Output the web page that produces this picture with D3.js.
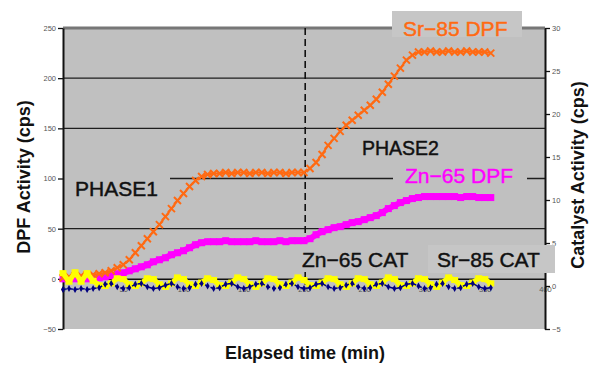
<!DOCTYPE html>
<html>
<head>
<meta charset="utf-8">
<script src="https://cdn.jsdelivr.net/npm/d3@7"></script>
<style>
  html, body { margin: 0; padding: 0; background: #ffffff; }
  svg { display: block; }
  text { font-family: "Liberation Sans", Arial, sans-serif; }
</style>
</head>
<body>
<svg id="chart" width="601" height="365"></svg>
<script>
// Elapsed time (min) of each sample
const times = [
  0, 5, 10, 15, 20, 25, 30, 35, 40, 45, 50, 55, 60, 65, 70, 75, 80, 85, 90, 95,
  100, 105, 110, 115, 120, 125, 130, 135, 140, 145, 150, 155, 160, 165, 170, 175, 180, 185, 190, 195,
  200, 205, 210, 215, 220, 225, 230, 235, 240, 245, 250, 255, 260, 265, 270, 275, 280, 285, 290, 295,
  300, 305, 310, 315, 320, 325, 330, 335, 340, 345, 350, 355
];

// DPF activity (cps), left axis
const sr85Dpf = [
  1, 2, 3, 3, 4, 4, 5, 6, 8, 11, 14, 19, 26, 33, 40, 47, 54, 62, 70, 78,
  85, 92, 98, 102, 104, 105, 105, 106, 105, 106, 106, 105, 106, 106, 105, 106, 106, 105, 106, 106,
  106, 110, 116, 124, 133, 140, 147, 153, 158, 163, 168, 173, 179, 186, 194, 202, 210, 218, 223, 226,
  226, 227, 226, 226, 227, 226, 226, 227, 226, 226, 226, 225
];
const zn65Dpf = [
  0, 0, 0, 0, 0, 0, 1, 2, 3, 5, 6, 8, 10, 12, 14, 17, 19, 21, 24, 26,
  28, 31, 34, 36, 37, 37, 37, 38, 37, 37, 37, 37, 38, 37, 37, 37, 38, 37, 38, 38,
  38, 40, 44, 47, 49, 51, 52, 54, 56, 57, 59, 61, 63, 66, 70, 73, 76, 78, 80, 81,
  82, 82, 82, 82, 82, 82, 81, 82, 82, 81, 81, 81
];

// Catalyst activity (cps), right axis
const zn65Cat = [
  -0.4, -0.3, -0.4, -0.3, -0.4, -0.3, -0.2, 0.2, 0.3, -0.1, -0.3, -0.2, 0.2, 0.3, -0.1, -0.3, -0.2, 0.1, 0.3, -0.1,
  -0.3, -0.2, 0.2, 0.3, 0.0, -0.3, -0.2, 0.2, 0.3, -0.1, -0.3, -0.1, 0.2, 0.3, -0.1, -0.3, -0.2, 0.2, 0.3, -0.1,
  -0.3, -0.2, 0.2, 0.3, -0.1, -0.3, -0.2, 0.1, 0.3, -0.1, -0.3, -0.2, 0.2, 0.3, -0.1, -0.3, -0.2, 0.2, 0.3, 0.0,
  -0.3, -0.2, 0.2, 0.3, -0.1, -0.3, -0.2, 0.2, 0.3, -0.1, -0.3, -0.2
];
const sr85Cat = [
  1.5, 0.5, 1.6, 0.5, 1.5, 0.6, 0.1, 0.0, 0.3, 0.9, 0.8, 0.2, 0.0, 0.3, 0.9, 0.8, 0.2, -0.1, 0.3, 1.0,
  0.8, 0.2, 0.0, 0.4, 0.9, 0.7, 0.1, 0.0, 0.4, 1.0, 0.8, 0.2, -0.1, 0.3, 0.9, 0.8, 0.2, 0.0, 0.4, 1.0,
  0.7, 0.1, 0.0, 0.4, 0.9, 0.8, 0.2, -0.1, 0.3, 0.9, 0.8, 0.2, 0.0, 0.4, 1.0, 0.8, 0.1, 0.0, 0.3, 0.9,
  0.8, 0.2, -0.1, 0.4, 1.0, 0.7, 0.1, 0.0, 0.4, 0.9, 0.8, 0.3
];

// Axis ticks
const xTicks = [0, 50, 100, 150, 200, 250, 300, 350, 400];
const leftTicks = [-50, 0, 50, 100, 150, 200, 250];
const rightTicks = [-5, 0, 5, 10, 15, 20, 25, 30];
const gridValues = [50, 100, 150, 200];
const phaseChange = 201;

const svg = d3.select("#chart");
const x = d3.scaleLinear().domain([0, 400]).range([63, 545]);
const yL = d3.scaleLinear().domain([-50, 250]).range([329, 28]);
const yR = d3.scaleLinear().domain([-5, 30]).range([329, 28]);

const plotBg = "#c0c0c0";
const boxBg = "#c6c6c6";

// plot area
svg.append("rect")
  .attr("x", x(0)).attr("y", yL(250))
  .attr("width", x(400) - x(0)).attr("height", yL(-50) - yL(250))
  .attr("fill", plotBg);

// horizontal gridlines
svg.append("g").selectAll("line").data(gridValues).join("line")
  .attr("x1", x(0)).attr("x2", x(400))
  .attr("y1", d => yL(d)).attr("y2", d => yL(d))
  .attr("stroke", "#1e1e1e").attr("stroke-width", 1.3);

// top frame
svg.append("line")
  .attr("x1", x(0)).attr("x2", x(400))
  .attr("y1", yL(250)).attr("y2", yL(250))
  .attr("stroke", "#777").attr("stroke-width", 3);

// phase boundary
svg.append("line")
  .attr("x1", x(phaseChange)).attr("x2", x(phaseChange))
  .attr("y1", yL(250)).attr("y2", yL(-6))
  .attr("stroke", "#111").attr("stroke-width", 1.6)
  .attr("stroke-dasharray", "7,4");

// label backgrounds inside the plot
const plainBoxes = [
  [63, 172, 107, 30],
  [393, 160, 134, 28],
  [297, 246, 122, 26]
];
svg.append("g").selectAll("rect").data(plainBoxes).join("rect")
  .attr("x", d => d[0]).attr("y", d => d[1])
  .attr("width", d => d[2]).attr("height", d => d[3])
  .attr("fill", plotBg);

// axes
const xAxis = svg.append("g")
  .attr("transform", `translate(0,${yL(0)})`)
  .call(d3.axisBottom(x).tickValues(xTicks).tickSize(5).tickSizeOuter(0));
xAxis.selectAll(".tick line").attr("y1", -2).attr("y2", 3).attr("stroke", "#111");
xAxis.select(".domain").attr("stroke", "#111").attr("stroke-width", 1.5);
xAxis.selectAll("text").attr("y", 8).attr("font-size", 7.5).attr("fill", "#555");

const leftAxis = svg.append("g")
  .attr("transform", `translate(${x(0)},0)`)
  .call(d3.axisLeft(yL).tickValues(leftTicks).tickSize(5).tickSizeOuter(0));
leftAxis.select(".domain").attr("stroke", "#111").attr("stroke-width", 2);
leftAxis.selectAll(".tick line").attr("stroke", "#111").attr("stroke-width", 1.3);
leftAxis.selectAll("text").attr("font-size", 7.5).attr("fill", "#555").attr("x", -7);

const rightAxis = svg.append("g")
  .attr("transform", `translate(${x(400)},0)`)
  .call(d3.axisRight(yR).tickValues(rightTicks).tickSize(5).tickSizeOuter(0));
rightAxis.select(".domain").attr("stroke", "#111").attr("stroke-width", 2);
rightAxis.selectAll(".tick line").attr("stroke", "#111").attr("stroke-width", 1.3);
rightAxis.selectAll("text").attr("font-size", 7.5).attr("fill", "#555").attr("x", 7);

// series
const rowsOf = arr => times.map((t, i) => ({ t, v: arr[i] }));

function drawSeries(arr, yScale, color, width, dash) {
  const line = d3.line().x(d => x(d.t)).y(d => yScale(d.v));
  svg.append("path").datum(rowsOf(arr))
    .attr("d", line).attr("fill", "none")
    .attr("stroke", color).attr("stroke-width", width)
    .attr("stroke-linejoin", "round")
    .attr("stroke-dasharray", dash || null);
}

// Zn-65 DPF
drawSeries(zn65Dpf, yL, "#ff00ff", 6);
svg.append("g").selectAll("rect").data(rowsOf(zn65Dpf)).join("rect")
  .attr("x", d => x(d.t) - 3.5).attr("y", d => yL(d.v) - 3.5)
  .attr("width", 7).attr("height", 7).attr("fill", "#ff00ff");

// Sr-85 DPF
drawSeries(sr85Dpf, yL, "#ff6a13", 2);
svg.append("g").selectAll("path").data(rowsOf(sr85Dpf)).join("path")
  .attr("transform", d => `translate(${x(d.t)},${yL(d.v)})`)
  .attr("d", "M-3.5,-3.5L3.5,3.5M-3.5,3.5L3.5,-3.5")
  .attr("stroke", "#ff6a13").attr("stroke-width", 2).attr("fill", "none");

// Sr-85 CAT
drawSeries(sr85Cat, yR, "#ffff00", 5);
svg.append("g").selectAll("rect").data(rowsOf(sr85Cat)).join("rect")
  .attr("x", d => x(d.t) - 3.5).attr("y", d => yR(d.v) - 3)
  .attr("width", 7).attr("height", 6).attr("fill", "#ffff00");

// Zn-65 CAT
drawSeries(zn65Cat, yR, "#000080", 1.5, "4,2");
svg.append("g").selectAll("path").data(rowsOf(zn65Cat)).join("path")
  .attr("transform", d => `translate(${x(d.t)},${yR(d.v)})`)
  .attr("d", d3.symbol(d3.symbolDiamond, 14)())
  .attr("fill", "#000080");

// boxes that sit over the frame
svg.append("rect").attr("x", 392).attr("y", 11).attr("width", 130).attr("height", 26).attr("fill", boxBg);
svg.append("rect").attr("x", 428).attr("y", 245).attr("width", 127).attr("height", 28).attr("fill", boxBg);

// annotations
const notes = [
  { text: "PHASE1", x: 75, y: 196, size: 21, color: "#111" },
  { text: "PHASE2", x: 362, y: 155, size: 19.5, color: "#111" },
  { text: "Sr\u221285 DPF", x: 403, y: 36, size: 21, color: "#ff6a13" },
  { text: "Zn\u221265 DPF", x: 405, y: 183, size: 21, color: "#ff00ff" },
  { text: "Zn\u221265 CAT", x: 302, y: 267, size: 21, color: "#111" },
  { text: "Sr\u221285 CAT", x: 437, y: 267, size: 21, color: "#111" }
];
svg.append("g").selectAll("text").data(notes).join("text")
  .attr("x", d => d.x).attr("y", d => d.y)
  .attr("font-size", d => d.size).attr("fill", d => d.color)
  .attr("stroke", d => d.color).attr("stroke-width", 0.45)
  .text(d => d.text);

// axis titles
svg.append("text")
  .attr("transform", "translate(24,177) rotate(-90)")
  .attr("text-anchor", "middle").attr("dominant-baseline", "central")
  .attr("font-size", 18).attr("font-weight", "bold").attr("fill", "#111")
  .text("DPF Activity (cps)");
svg.append("text")
  .attr("transform", "translate(578,175) rotate(-90)")
  .attr("text-anchor", "middle").attr("dominant-baseline", "central")
  .attr("font-size", 18).attr("font-weight", "bold").attr("fill", "#111")
  .text("Catalyst Activity (cps)");
svg.append("text")
  .attr("x", 305).attr("y", 359)
  .attr("text-anchor", "middle")
  .attr("font-size", 18).attr("font-weight", "bold").attr("fill", "#111")
  .text("Elapsed time (min)");
</script>
</body>
</html>
